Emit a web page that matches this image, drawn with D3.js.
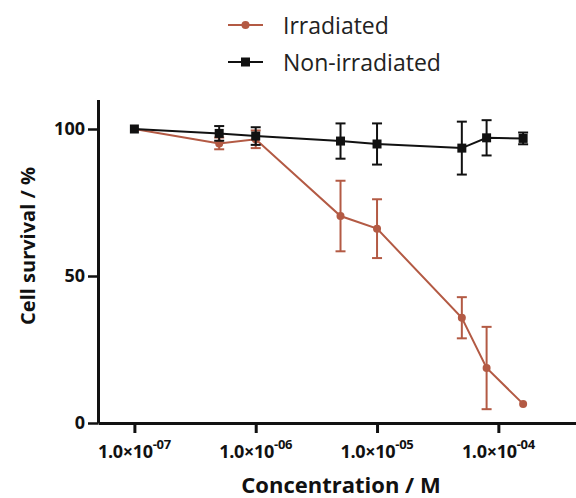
<!DOCTYPE html>
<html>
<head>
<meta charset="utf-8">
<script src="https://cdn.jsdelivr.net/npm/d3@7"></script>
<style>
  body { margin: 0; background: #fff; }
  svg { font-family: "Open Sans", sans-serif; }
</style>
</head>
<body>
<script>
//Width and height
var w = 576;
var h = 498;

//Data
var concentrations = [1e-7, 5e-7, 1e-6, 5e-6, 1e-5, 5e-5, 8e-5, 1.6e-4];
var irradiated = [100, 95.1, 96.5, 70.4, 66.1, 35.8, 18.7, 6.5];
var irradiatedErr = [0, 2, 3, 12, 10, 7, 14, 0];
var nonIrradiated = [100, 98.5, 97.6, 95.9, 94.9, 93.5, 97.0, 96.8];
var nonIrradiatedErr = [0, 2.5, 3, 6, 7, 9, 6, 2];
var xTicks = [1e-7, 1e-6, 1e-5, 1e-4];
var yTicks = [0, 50, 100];
var seriesNames = ["Irradiated", "Non-irradiated"];

var red = "#b35a44";

//Scales
var xScale = d3.scaleLog()
  .domain([Math.pow(10, -7.3), Math.pow(10, -3.36)])
  .range([98, 576]);

var yScale = d3.scaleLinear()
  .domain([0, 110])
  .range([423, 99.6]);

var svg = d3.select("body").append("svg").attr("width", w).attr("height", h);

//Series
var series = [
  { name: seriesNames[0], values: irradiated, err: irradiatedErr, color: red, shape: "circle", width: 2 },
  { name: seriesNames[1], values: nonIrradiated, err: nonIrradiatedErr, color: "#111", shape: "square", width: 2 }
];

var line = d3.line()
  .x(function (d) { return xScale(d.x); })
  .y(function (d) { return yScale(d.y); });

series.forEach(function (s) {
  var pts = concentrations.map(function (c, i) {
    return { x: c, y: s.values[i], e: s.err[i] };
  });
  var g = svg.append("g");

  //Error bars
  var eb = g.selectAll(".err").data(pts.filter(function (d) { return d.e > 0; }))
    .enter().append("g").attr("stroke", s.color).attr("stroke-width", 2);
  eb.append("line")
    .attr("x1", function (d) { return xScale(d.x); })
    .attr("x2", function (d) { return xScale(d.x); })
    .attr("y1", function (d) { return yScale(d.y + d.e); })
    .attr("y2", function (d) { return yScale(d.y - d.e); });
  [1, -1].forEach(function (sign) {
    eb.append("line")
      .attr("x1", function (d) { return xScale(d.x) - 5; })
      .attr("x2", function (d) { return xScale(d.x) + 5; })
      .attr("y1", function (d) { return yScale(d.y + sign * d.e); })
      .attr("y2", function (d) { return yScale(d.y + sign * d.e); });
  });

  g.append("path").datum(pts)
    .attr("d", line)
    .attr("fill", "none")
    .attr("stroke", s.color)
    .attr("stroke-width", s.width);

  if (s.shape === "circle") {
    g.selectAll("circle").data(pts).enter().append("circle")
      .attr("cx", function (d) { return xScale(d.x); })
      .attr("cy", function (d) { return yScale(d.y); })
      .attr("r", 4)
      .attr("fill", s.color);
  } else {
    g.selectAll("rect").data(pts).enter().append("rect")
      .attr("x", function (d) { return xScale(d.x) - 4.5; })
      .attr("y", function (d) { return yScale(d.y) - 4.5; })
      .attr("width", 9)
      .attr("height", 9)
      .attr("fill", s.color);
  }
});

//Axes
var xAxis = d3.axisBottom(xScale).tickValues(xTicks).tickSize(10).tickSizeOuter(0).tickFormat("");
var yAxis = d3.axisLeft(yScale).tickValues(yTicks).tickSize(10).tickSizeOuter(0);

var gx = svg.append("g")
  .attr("transform", "translate(0,423)")
  .call(xAxis);
gx.select(".domain").attr("stroke", "#111").attr("stroke-width", 3);
gx.selectAll(".tick line").attr("stroke", "#111").attr("stroke-width", 3);

//x tick labels with superscript exponent
xTicks.forEach(function (t) {
  var exp = Math.round(Math.log10(t));
  var label = svg.append("text")
    .attr("x", xScale(t))
    .attr("y", 457.5)
    .attr("text-anchor", "middle")
    .attr("font-size", 18)
    .attr("font-weight", "bold")
    .attr("letter-spacing", "-0.3")
    .attr("fill", "#111");
  label.append("tspan").text("1.0\u00d710");
  label.append("tspan")
    .attr("dy", -9)
    .attr("font-size", 13)
    .text("-" + String(-exp).padStart(2, "0"));
});

var gy = svg.append("g")
  .attr("transform", "translate(98,0)")
  .call(yAxis);
gy.select(".domain").attr("stroke", "#111").attr("stroke-width", 3);
gy.selectAll(".tick line").attr("stroke", "#111").attr("stroke-width", 2.5);
gy.selectAll(".tick text")
  .attr("x", -13)
  .attr("font-size", 18)
  .attr("font-weight", "bold")
  .attr("fill", "#111")
  .attr("font-family", "Open Sans, sans-serif");

//Axis titles
svg.append("text")
  .attr("x", 341)
  .attr("y", 493)
  .attr("text-anchor", "middle")
  .attr("font-size", 22)
  .attr("font-weight", "bold")
  .attr("fill", "#111")
  .text("Concentration / M");

svg.append("text")
  .attr("transform", "translate(35,246) rotate(-90)")
  .attr("text-anchor", "middle")
  .attr("font-size", 20)
  .attr("font-weight", "bold")
  .attr("fill", "#111")
  .text("Cell survival / %");

//Legend
var legend = svg.append("g");
series.forEach(function (s, i) {
  var ly = 25 + i * 37;
  legend.append("line")
    .attr("x1", 228).attr("x2", 263)
    .attr("y1", ly).attr("y2", ly)
    .attr("stroke", s.color).attr("stroke-width", 2);
  if (s.shape === "circle") {
    legend.append("circle").attr("cx", 245.5).attr("cy", ly).attr("r", 4).attr("fill", s.color);
  } else {
    legend.append("rect").attr("x", 241).attr("y", ly - 4.5).attr("width", 9).attr("height", 9).attr("fill", s.color);
  }
  legend.append("text")
    .attr("x", 283)
    .attr("y", ly + 8.5)
    .attr("font-size", 23)
    .attr("fill", "#222")
    .text(s.name);
});
</script>
</body>
</html>
